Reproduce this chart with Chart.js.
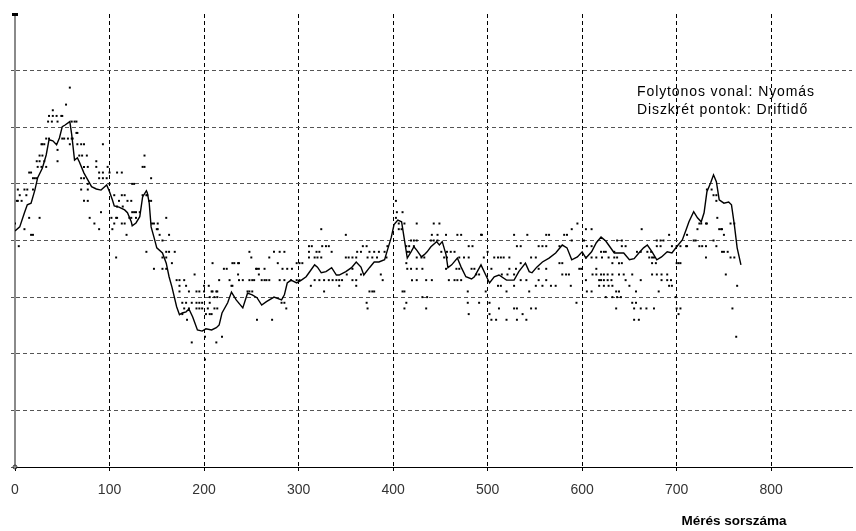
<!DOCTYPE html>
<html>
<head>
<meta charset="utf-8">
<script src="https://cdn.jsdelivr.net/npm/chart.js@4"></script>
<style>
html,body{margin:0;padding:0;background:#fff;overflow:hidden}
#wrap{width:856px;height:531px;position:relative}
canvas{display:block}
</style>
</head>
<body>
<div id="wrap"><canvas id="c" width="856" height="531"></canvas></div>
<script>
// ---------- data ----------
const xTickValues = [0, 100, 200, 300, 400, 500, 600, 700, 800];
const yGridValues = [0, 1, 2, 3, 4, 5, 6, 7];
const legendLines = ['Folytonos vonal: Nyomás', 'Diszkrét pontok: Driftidő'];
const xAxisTitle = 'Mérés sorszáma';

// Continuous line: pressure (Nyomás) [measurement index, value]
const pressurePoints = [
  [0,4.17],[5,4.24],[10,4.49],[13,4.63],[17,4.66],[21,4.89],[24,5.11],[29,5.28],[33,5.51],[36,5.78],
  [40,5.76],[44,5.69],[47,5.81],[50,6.01],[53,6.04],[58,6.10],[60,5.87],[63,5.42],[66,5.46],[68,5.39],
  [73,5.19],[77,5.07],[81,4.95],[86,4.91],[91,4.89],[97,4.98],[100,4.86],[103,4.72],[105,4.61],[110,4.59],
  [116,4.54],[119,4.49],[123,4.33],[124,4.26],[128,4.31],[132,4.42],[135,4.77],[139,4.88],[140,4.84],[142,4.66],
  [144,4.24],[147,4.06],[150,3.87],[156,3.78],[160,3.60],[163,3.36],[166,3.18],[171,2.83],[174,2.69],[177,2.72],
  [181,2.74],[184,2.79],[188,2.65],[193,2.42],[198,2.40],[202,2.44],[208,2.42],[213,2.46],[216,2.51],[219,2.72],
  [225,2.90],[229,3.09],[234,2.95],[241,2.81],[246,3.07],[251,3.04],[256,2.99],[261,2.86],[266,2.92],[274,3.00],
  [282,2.95],[285,3.04],[288,3.25],[292,3.30],[298,3.25],[303,3.30],[308,3.36],[311,3.43],[317,3.57],[320,3.53],
  [324,3.43],[329,3.45],[335,3.52],[340,3.39],[343,3.39],[350,3.45],[356,3.52],[361,3.62],[366,3.53],[369,3.39],
  [375,3.52],[380,3.62],[385,3.62],[391,3.66],[394,3.83],[398,4.05],[401,4.28],[405,4.36],[409,4.33],[412,4.01],
  [415,3.69],[419,3.80],[422,3.89],[425,3.83],[430,3.71],[433,3.75],[436,3.80],[440,3.89],[446,3.98],[449,3.92],
  [452,3.98],[456,3.75],[458,3.52],[462,3.57],[468,3.69],[472,3.53],[477,3.36],[483,3.32],[486,3.36],[493,3.57],
  [498,3.39],[502,3.25],[507,3.36],[512,3.39],[520,3.30],[528,3.30],[533,3.45],[540,3.60],[544,3.45],[547,3.43],
  [552,3.53],[558,3.62],[565,3.69],[572,3.78],[579,3.92],[584,3.87],[589,3.66],[595,3.71],[600,3.80],[604,3.69],
  [610,3.80],[615,3.96],[620,4.06],[625,3.99],[628,3.92],[634,3.78],[639,3.78],[644,3.78],[650,3.66],[655,3.68],
  [660,3.78],[665,3.87],[669,3.92],[674,3.80],[679,3.66],[684,3.71],[690,3.80],[695,3.78],[700,3.89],[706,4.01],
  [710,4.19],[713,4.33],[718,4.51],[722,4.40],[726,4.33],[729,4.49],[732,4.86],[736,5.02],[739,5.16],[742,5.04],
  [745,4.72],[750,4.66],[755,4.68],[758,4.63],[761,4.28],[764,3.87],[768,3.57]
];

// Discrete points: drift time (Driftidő), quantized levels and the measurement indices at each level
const driftLevels = [6.7, 6.4, 6.3, 6.2, 6.1, 5.9, 5.8, 5.7, 5.6, 5.5, 5.4, 5.3, 5.2, 5.1, 5.0, 4.9, 4.8, 4.7, 4.6, 4.5,
  4.4, 4.3, 4.2, 4.1, 4.0, 3.9, 3.8, 3.7, 3.6, 3.5, 3.4, 3.3, 3.2, 3.1, 3.0, 2.9, 2.8, 2.7, 2.6, 2.3, 2.2, 1.9];
const driftIndices = [
  [58],
  [54],
  [40],
  [36,40,44,49,50],
  [35,39,45,60,63,65],
  [65,66],
  [33,36,50,52,56,60,61],
  [28,29,31,58,66,70,73,93],
  [45],
  [26,29,68,71,76,137],
  [23,26,31,45,86],
  [24,28,33,73,77,86,98,135,137],
  [15,17,89,93,100,108,113],
  [19,21,23,70,73,89,93,97,144],
  [77,100,124,126],
  [3,10,13,19,70,77,732,737],
  [5,12,105,113,116,135,139,140,739,742],
  [2,3,7,73,77,110,119,123,142,144,403,742],
  [108,114],
  [91,124,126,128,132,404,410],
  [15,26,79,102,107,108,121,123,128,160,403,743],
  [0,84,105,113,116,145,147,151,406,412,425,443,449,595,724,726,731,732,757,761],
  [10,89,103,150,151,324,406,409,589,604,610,663,722,745,747,748],
  [17,19,118,153,163,350,441,447,456,468,472,493,494,528,542,562,565,581,584,692,711,750],
  [156,419,422,425,440,443,447,589,602,637,642,679,683,686,718,720,739],
  [4,311,314,325,329,332,368,372,394,414,417,422,480,484,531,535,554,558,562,576,605,610,642,646,679,683,695,700,704,710,711,724,727,731,742],
  [139,160,163,169,248,274,280,285,311,319,322,335,362,366,375,380,385,391,415,417,451,457,461,465,500,620,623,625,634,658,662,669,673,748,750,754],
  [107,156,160,250,269,311,317,320,324,350,353,357,361,373,378,383,393,425,430,433,454,457,470,475,480,496,507,511,514,517,523,546,551,604,610,615,621,628,634,637,671,674,676,731,757,761],
  [166,209,230,232,236,237,278,298,301,304,414,535,576,579,632,639,642,674,678,700,702,704],
  [147,156,160,221,224,255,256,258,264,283,288,293,357,415,419,425,431,456,467,470,483,486,504,523,530,554,562,597,599,615],
  [190,236,258,351,366,387,488,491,515,521,528,579,583,586,611,615,620,623,627,632,639,644,653,674,679,684,690,752],
  [171,174,179,216,227,237,241,248,251,253,261,264,266,269,280,285,292,298,301,317,322,327,332,336,340,343,346,357,361,389,420,425,435,441,459,465,468,472,535,541,554,562,604,618,620,623,627,631,646,662,684,690,694],
  [174,181,200,205,229,230,313,343,361,511,514,528,551,558,567,572,588,618,623,628,632,650,692,695,764],
  [174,184,192,195,200,208,209,213,214,246,248,251,327,375,378,380,410,412,479,498,520,544,605,610,636,639,657,681],
  [206,211,214,431,436,625,632,637,641,699],
  [177,181,187,192,195,198,206,282,285,372,414,479,491,502,594,653,657],
  [179,184,192,195,198,204,211,214,287,373,412,435,512,528,531,546,551,636,655,662,668,676,700,704,759],
  [177,202,206,208,480,502,537,702],
  [182,256,272,504,509,520,531,541,655,660],
  [201,219,763],
  [187,213],
  [201]
];

// ---------- build datasets ----------
const pressureData = pressurePoints.map(p => ({x: p[0], y: p[1]}));
const driftData = [];
driftLevels.forEach((lvl, i) => driftIndices[i].forEach(x => driftData.push({x: x, y: lvl})));

const FONT = '"Liberation Sans", Arial, Helvetica, sans-serif';

const decor = {
  id: 'decor',
  afterDraw(chart) {
    const ctx = chart.ctx, a = chart.chartArea;
    ctx.save();
    // small axis end markers
    ctx.fillStyle = '#000';
    ctx.fillRect(a.left - 3, a.top - 1, 6, 3);
    ctx.strokeStyle = '#333';
    ctx.lineWidth = 1;
    ctx.beginPath(); ctx.arc(a.left, a.bottom, 2, 0, Math.PI * 2); ctx.stroke();
    // legend text
    ctx.fillStyle = '#000';
    ctx.textAlign = 'left';
    ctx.textBaseline = 'middle';
    ctx.font = '14px ' + FONT;
    try { ctx.letterSpacing = '0.9px'; } catch (e) {}
    ctx.fillText(legendLines[0], 637, 92);
    ctx.fillText(legendLines[1], 637, 110);
    try { ctx.letterSpacing = '0px'; } catch (e) {}
    // axis title
    ctx.font = 'bold 13.5px ' + FONT;
    ctx.textAlign = 'center';
    ctx.fillText(xAxisTitle, 734, 521);
    ctx.restore();
  }
};

new Chart(document.getElementById('c'), {
  type: 'scatter',
  data: {
    datasets: [
      {
        label: 'Driftidő',
        data: driftData,
        showLine: false,
        pointStyle: 'rect',
        pointRadius: 1.4,
        pointBorderWidth: 0,
        backgroundColor: '#000',
        borderColor: '#000',
        order: 2
      },
      {
        label: 'Nyomás',
        data: pressureData,
        showLine: true,
        borderColor: '#000',
        borderWidth: 1.4,
        pointRadius: 0,
        fill: false,
        tension: 0,
        order: 1
      }
    ]
  },
  options: {
    responsive: false,
    animation: false,
    devicePixelRatio: 1,
    layout: { padding: { top: 14, right: 0, left: 0, bottom: 0 } },
    plugins: { legend: { display: false }, tooltip: { enabled: false } },
    scales: {
      x: {
        type: 'linear',
        min: 0,
        max: 885.5,
        afterFit(s) { s.height = 64; },
        afterBuildTicks(s) { s.ticks = xTickValues.map(v => ({ value: v })); },
        grid: {
          color: c => (c.tick && c.tick.value === 0) ? 'rgba(0,0,0,0)' : '#000',
          lineWidth: 1,
          drawTicks: true,
          tickLength: 4,
          tickColor: '#000'
        },
        border: { display: true, color: '#000', width: 1, dash: [4, 3] },
        ticks: { color: '#333', font: { family: FONT, size: 14 }, padding: 11, maxRotation: 0, autoSkip: false }
      },
      y: {
        type: 'linear',
        min: 0,
        max: 8,
        afterFit(s) { s.width = 15; },
        afterBuildTicks(s) { s.ticks = yGridValues.map(v => ({ value: v })); },
        grid: { color: '#555', lineWidth: 1, tickLength: 4, tickColor: '#555' },
        border: { display: true, color: '#8a8a8a', width: 2, dash: [4, 3] },
        ticks: { display: false }
      }
    }
  },
  plugins: [decor]
});
</script>
</body>
</html>
